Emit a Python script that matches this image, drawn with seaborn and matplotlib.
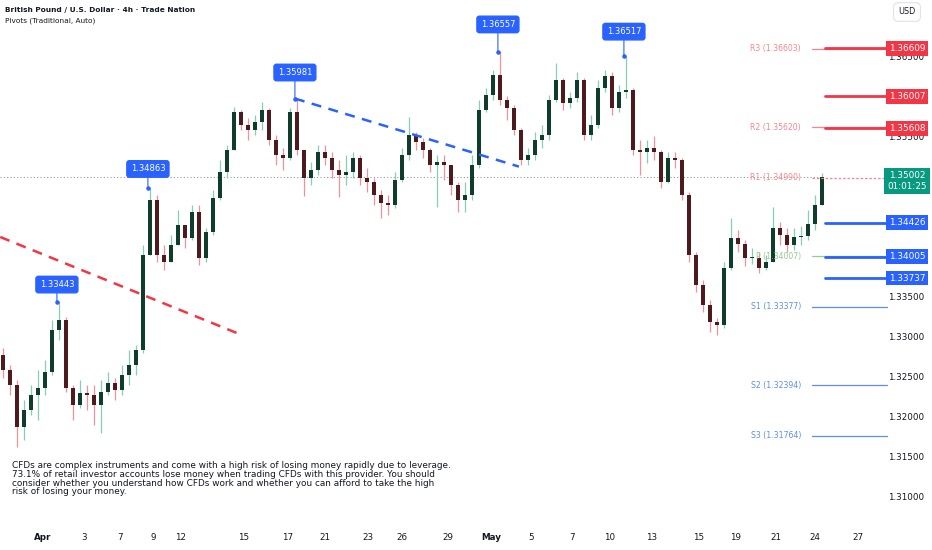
import numpy as np
import pandas as pd
import matplotlib.pyplot as plt
import seaborn as sns
from matplotlib.transforms import blended_transform_factory

# GBP/USD 4h, two 4h bars merged per candle
first_open = 1.3278
close = [
    1.3259, 1.3240, 1.3188, 1.3209, 1.3228, 1.3236, 1.3256, 1.3309, 1.3321, 1.3236,
    1.3215, 1.3230, 1.3228, 1.3215, 1.3231, 1.3243, 1.3234, 1.3253, 1.3265, 1.3284,
    1.3403, 1.3471, 1.3403, 1.3394, 1.3415, 1.3440, 1.3424, 1.3456, 1.3399, 1.3431,
    1.3474, 1.3506, 1.3534, 1.3581, 1.3565, 1.3559, 1.3569, 1.3584, 1.3546, 1.3528,
    1.3524, 1.3581, 1.3534, 1.3499, 1.3509, 1.3531, 1.3524, 1.3509, 1.3503, 1.3506,
    1.3524, 1.3499, 1.3494, 1.3478, 1.3468, 1.3465, 1.3496, 1.3528, 1.3553, 1.3544,
    1.3534, 1.3515, 1.3519, 1.3515, 1.3490, 1.3471, 1.3478, 1.3515, 1.3584, 1.3603,
    1.3628, 1.3596, 1.3586, 1.3559, 1.3521, 1.3528, 1.3546, 1.3553, 1.3596, 1.3621,
    1.3592, 1.3599, 1.3621, 1.3553, 1.3565, 1.3611, 1.3626, 1.3586, 1.3606, 1.3609,
    1.3534, 1.3531, 1.3536, 1.3531, 1.3494, 1.3524, 1.3521, 1.3478, 1.3403, 1.3365,
    1.3340, 1.3319, 1.3315, 1.3386, 1.3424, 1.3416, 1.3399, 1.3399, 1.3386, 1.3394,
    1.3436, 1.3428, 1.3415, 1.3425, 1.3426, 1.3441, 1.3465, 1.35002]
high = [
    1.3286, 1.3265, 1.3246, 1.3221, 1.3240, 1.3259, 1.3271, 1.3321, 1.33443, 1.3325,
    1.3240, 1.3246, 1.3240, 1.3240, 1.3246, 1.3256, 1.3249, 1.3265, 1.3284, 1.3290,
    1.3415, 1.34863, 1.3478, 1.3415, 1.3428, 1.3459, 1.3440, 1.3465, 1.3465, 1.3436,
    1.3484, 1.3521, 1.3540, 1.3588, 1.3584, 1.3574, 1.3578, 1.3594, 1.3586, 1.3553,
    1.3536, 1.3586, 1.35981, 1.3534, 1.3519, 1.3540, 1.3540, 1.3531, 1.3521, 1.3528,
    1.3531, 1.3528, 1.3511, 1.3499, 1.3484, 1.3478, 1.3506, 1.3536, 1.3575, 1.3556,
    1.3549, 1.3536, 1.3528, 1.3528, 1.3515, 1.3494, 1.3494, 1.3528, 1.3596, 1.3611,
    1.3634, 1.36557, 1.3601, 1.3590, 1.3561, 1.3536, 1.3556, 1.3565, 1.3603, 1.3642,
    1.3624, 1.3606, 1.3631, 1.3624, 1.3578, 1.3621, 1.3634, 1.3631, 1.3615, 1.36517,
    1.3611, 1.3546, 1.3546, 1.3551, 1.3534, 1.3531, 1.3531, 1.3524, 1.3481, 1.3406,
    1.3371, 1.3346, 1.3324, 1.3394, 1.3449, 1.3434, 1.3421, 1.3411, 1.3406, 1.3403,
    1.3463, 1.3444, 1.3436, 1.3436, 1.3439, 1.3459, 1.3478, 1.3505]
low = [
    1.3249, 1.3228, 1.3163, 1.3171, 1.3203, 1.3196, 1.3228, 1.3253, 1.3296, 1.3231,
    1.3196, 1.3211, 1.3209, 1.3190, 1.3180, 1.3228, 1.3221, 1.3228, 1.3240, 1.3253,
    1.3280, 1.3403, 1.3394, 1.3384, 1.3394, 1.3415, 1.3411, 1.3421, 1.3390, 1.3394,
    1.3428, 1.3471, 1.3499, 1.3534, 1.3559, 1.3546, 1.3553, 1.3559, 1.3540, 1.3515,
    1.3509, 1.3521, 1.3528, 1.3476, 1.3490, 1.3503, 1.3515, 1.3499, 1.3475, 1.3490,
    1.3499, 1.3490, 1.3481, 1.3465, 1.3449, 1.3453, 1.3461, 1.3494, 1.3521, 1.3534,
    1.3524, 1.3506, 1.3463, 1.3496, 1.3478, 1.3456, 1.3456, 1.3471, 1.3511, 1.3581,
    1.3596, 1.3590, 1.3571, 1.3553, 1.3515, 1.3515, 1.3521, 1.3536, 1.3546, 1.3594,
    1.3584, 1.3586, 1.3594, 1.3546, 1.3546, 1.3561, 1.3606, 1.3578, 1.3581, 1.3599,
    1.3528, 1.3503, 1.3518, 1.3521, 1.3486, 1.3492, 1.3511, 1.3471, 1.3394, 1.3356,
    1.3331, 1.3306, 1.3303, 1.3311, 1.3384, 1.3406, 1.3389, 1.3391, 1.3380, 1.3384,
    1.3394, 1.3415, 1.3406, 1.3409, 1.3415, 1.3421, 1.3434, 1.3465]

# swing high labels (candle index, value)
swing_bar = [8, 21, 42, 71, 89]
swing_val = [1.33443, 1.34863, 1.35981, 1.36557, 1.36517]

# trend lines (candle index, price)
red_tl_x = [-0.4, 33.4]
red_tl_p = [1.3425, 1.3305]
blue_tl_x = [41.7, 73.7]
blue_tl_p = [1.35981, 1.3513]

pivot_names = ['R3', 'R2', 'R1', 'P', 'S1', 'S2', 'S3']
pivot_levels = [1.36603, 1.35620, 1.34990, 1.34007, 1.33377, 1.32394, 1.31764]
alert_red = [1.36609, 1.36007, 1.35608]
alert_blue = [1.34426, 1.34005, 1.33737]
last_price = 1.35002
countdown = '01:01:25'

# price scale labels that are not hidden behind the tags
yticks = [1.365, 1.355, 1.335, 1.330, 1.325, 1.320, 1.315, 1.310]

tick_pos = [5.7, 11.6, 16.7, 21.4, 25.4, 34.4, 40.6, 46.0, 52.1, 57.0, 63.6,
            69.7, 75.4, 81.3, 86.7, 92.6, 99.3, 104.6, 110.4, 116.0, 122.1]
tick_lab = ['Apr', '3', '7', '9', '12', '15', '17', '21', '23', '26', '29',
            'May', '5', '7', '10', '13', '15', '19', '21', '24', '27']

W, H = 932, 550
PX = 7.0  # pixels per candle
X0 = -0.43


def px2x(px):
    return px / PX + X0


sns.set_theme(style='white')
plt.rcParams['font.family'] = ['DejaVu Sans']

fig = plt.figure(figsize=(W / 100, H / 100), dpi=100)
ax = fig.add_axes([0, 28 / H, 882 / W, 522 / H])
ax.set_xlim(X0, X0 + 882 / PX)
ax.set_ylim(1.306875, 1.372125)
for s in ax.spines.values():
    s.set_visible(False)

df = pd.DataFrame({'c': close, 'h': high, 'l': low})
df['o'] = [first_open] + close[:-1]
df['x'] = np.arange(len(df))
df['up'] = df['c'] >= df['o']

up_body, dn_body = '#103c2c', '#4e1a1d'
up_wick, dn_wick = '#86cfb6', '#f0929b'

for flag, wc, bc in [(True, up_wick, up_body), (False, dn_wick, dn_body)]:
    d = df[df['up'] == flag]
    ax.vlines(d['x'], d['l'], d['h'], color=wc, lw=0.9, zorder=2)
    bottom = np.minimum(d['o'], d['c'])
    height = np.maximum(np.abs(d['c'] - d['o']), 0.00012)
    ax.bar(d['x'], height, bottom=bottom, width=0.5, color=bc, lw=0, zorder=3)

# last price dotted line
ax.plot([X0, df['x'].iloc[-1]], [last_price, last_price], color='#9598a1',
        lw=0.8, ls=(0, (1, 2)), zorder=1)

# trend lines
sns.lineplot(x=red_tl_x, y=red_tl_p, ax=ax, color='#f23645', lw=1.8,
             linestyle=(0, (4, 3)), zorder=4)
sns.lineplot(x=blue_tl_x, y=blue_tl_p, ax=ax, color='#2962ff', lw=1.8,
             linestyle=(0, (4, 3)), zorder=4)

# swing labels
blue = '#2962ff'
lift = [17, 19, 26, 28, 24]
for b, v, lf in zip(swing_bar, swing_val, lift):
    ax.annotate(f'{v:.5f}', xy=(b - 0.3, v), xytext=(0, lf), textcoords='offset pixels',
                ha='center', va='center', fontsize=6, color='white', zorder=8,
                bbox=dict(boxstyle='round,pad=0.45,rounding_size=0.3', fc=blue, ec=blue),
                arrowprops=dict(arrowstyle='-', color=blue, lw=0.8, shrinkA=0, shrinkB=0))
    ax.scatter([b - 0.3], [v], s=5, color=blue, zorder=9)

# pivot levels
piv_col = {'R': '#f7858f', 'P': '#8fce94', 'S': '#5b8ef0'}
for name, lvl in zip(pivot_names, pivot_levels):
    col = piv_col[name[0]]
    ls = (0, (2, 1.5)) if name == 'R1' else '-'
    ax.plot([px2x(812), px2x(887)], [lvl, lvl], color=col, lw=0.9, ls=ls,
            clip_on=False, zorder=5)
    ax.text(px2x(801), lvl, f'{name} ({lvl:.5f})', color=col, fontsize=5.6,
            ha='right', va='center', zorder=6)

# horizontal alert lines
for lvl in alert_red:
    ax.plot([px2x(825), px2x(887)], [lvl, lvl], color='#f23645', lw=2,
            clip_on=False, zorder=6)
for lvl in alert_blue:
    ax.plot([px2x(825), px2x(887)], [lvl, lvl], color='#2962ff', lw=2,
            clip_on=False, zorder=6)

# y axis
ax.yaxis.tick_right()
ax.set_yticks(yticks)
ax.set_yticklabels([f'{v:.5f}' for v in yticks], fontsize=6.3, color='#131722')
ax.tick_params(axis='y', length=0, pad=4.5)

# x axis
ax.set_xticks(tick_pos)
ax.set_xticklabels(tick_lab, fontsize=6.3, color='#131722')
for lab in ax.get_xticklabels():
    if lab.get_text() in ('Apr', 'May'):
        lab.set_fontweight('bold')
ax.tick_params(axis='x', length=0, pad=8)

# price tags on the right scale
tr = blended_transform_factory(ax.transAxes, ax.transData)
tag_x = 907 / 882
for lvl in alert_red:
    ax.text(tag_x, lvl, f'{lvl:.5f}', transform=tr, ha='center', va='center',
            fontsize=6.4, color='white', zorder=20, clip_on=False,
            bbox=dict(boxstyle='square,pad=0.33', fc='#f23645', ec='none'))
for lvl in alert_blue:
    ax.text(tag_x, lvl, f'{lvl:.5f}', transform=tr, ha='center', va='center',
            fontsize=6.4, color='white', zorder=20, clip_on=False,
            bbox=dict(boxstyle='square,pad=0.33', fc='#2962ff', ec='none'))
ax.annotate(f'{last_price:.5f}\n{countdown}', xy=(tag_x, last_price), xycoords=tr,
            xytext=(0, 6), textcoords='offset pixels', ha='center', va='top',
            fontsize=6.4, color='white', zorder=20, linespacing=1.25,
            bbox=dict(boxstyle='square,pad=0.33', fc='#089981', ec='none'))

# header texts
narrow = ['Liberation Sans Narrow', 'DejaVu Sans']
fig.text(5 / W, 1 - 10 / H, 'British Pound / U.S. Dollar · 4h · Trade Nation',
         fontsize=5.3, fontweight='bold', color='#131722', va='center', family=narrow)
fig.text(5 / W, 1 - 21 / H, 'Pivots (Traditional, Auto)', fontsize=5.3,
         color='#131722', va='center', family=narrow)
fig.text(907 / W, 1 - 12 / H, 'USD', fontsize=5.8, color='#131722', ha='center',
         va='center', bbox=dict(boxstyle='round,pad=0.6', fc='white', ec='#e0e3eb', lw=0.8))

disclaimer = ('CFDs are complex instruments and come with a high risk of losing money rapidly due to leverage.\n'
              '73.1% of retail investor accounts lose money when trading CFDs with this provider. You should\n'
              'consider whether you understand how CFDs work and whether you can afford to take the high\n'
              'risk of losing your money.')
fig.text(12 / W, 1 - 461 / H, disclaimer, fontsize=6.4, color='#131722', va='top',
         linespacing=0.97)

fig.savefig('out.png', dpi=100, facecolor='white')
